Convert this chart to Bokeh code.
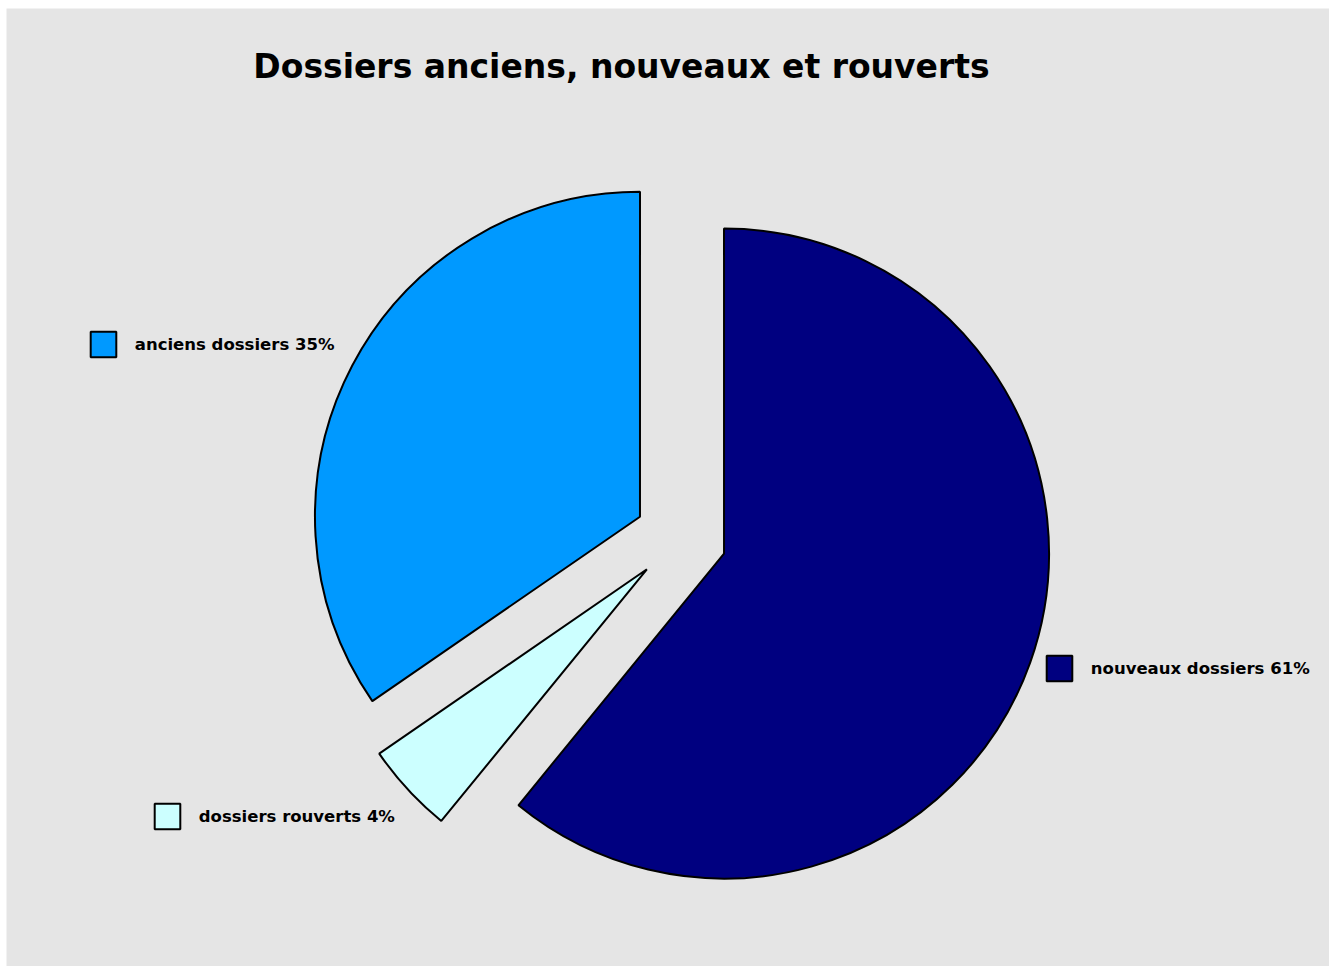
import math
from bokeh.plotting import figure
from bokeh.models import Range1d, Legend, LegendItem, Label
from bokeh.embed import file_html
from bokeh.resources import INLINE

# ---- data ----
categories = ["nouveaux dossiers", "dossiers rouverts", "anciens dossiers"]
shares = [60.9, 4.5, 34.6]          # slice sizes (%)
labels_pct = [61, 4, 35]            # percentages printed in the labels
colors = ["#000080", "#CCFFFF", "#0099FF"]
title_text = "Dossiers anciens, nouveaux et rouverts"

# ---- layout / style ----
W, H = 1329, 966
LEFT, TOP = 6, 8
cx, cy = 680.2, 428.4       # pie centre in plot units (1 unit = 1 px)
radius = 325
explode = 46
legend_pos = {
    "anciens dossiers": (80.8, 605.8),
    "nouveaux dossiers": (1036.8, 281.8),
    "dossiers rouverts": (144.8, 133.8),
}

p = figure(width=W, height=H, output_backend="svg", toolbar_location=None,
           x_range=Range1d(LEFT, W), y_range=Range1d(0, H - TOP),
           x_axis_location=None, y_axis_location=None,
           min_border_left=LEFT, min_border_top=TOP,
           min_border_right=0, min_border_bottom=0)
p.grid.visible = False
p.outline_line_color = None
p.border_fill_color = "white"
p.background_fill_color = "#E5E5E5"

total = float(sum(shares))
start = math.pi / 2
for cat, val, pct, col in zip(categories, shares, labels_pct, colors):
    a0 = start
    a1 = start - 2 * math.pi * val / total
    mid = (a0 + a1) / 2
    x = cx + explode * math.cos(mid)
    y = cy + explode * math.sin(mid)
    r = p.wedge(x=[x], y=[y], radius=radius, start_angle=[a0], end_angle=[a1],
                direction="clock", fill_color=col, line_color="black", line_width=2)
    start = a1
    vx, vy = legend_pos[cat]
    leg = Legend(items=[LegendItem(label=f"{cat} {pct}%", renderers=[r])],
                 location=(vx, vy), glyph_width=32, glyph_height=32,
                 label_standoff=16, padding=0, margin=0,
                 border_line_alpha=0, background_fill_alpha=0,
                 label_text_font="DejaVu Sans", label_text_font_style="bold",
                 label_text_font_size="16.5px", label_text_color="black")
    p.add_layout(leg)

title = Label(x=615, y=900, x_units="screen", y_units="screen", text=title_text,
              text_align="center", text_baseline="alphabetic",
              text_font="DejaVu Sans", text_font_style="bold",
              text_font_size="33px", text_color="black")
p.add_layout(title)

open("out.html", "w").write(file_html(p, INLINE))
